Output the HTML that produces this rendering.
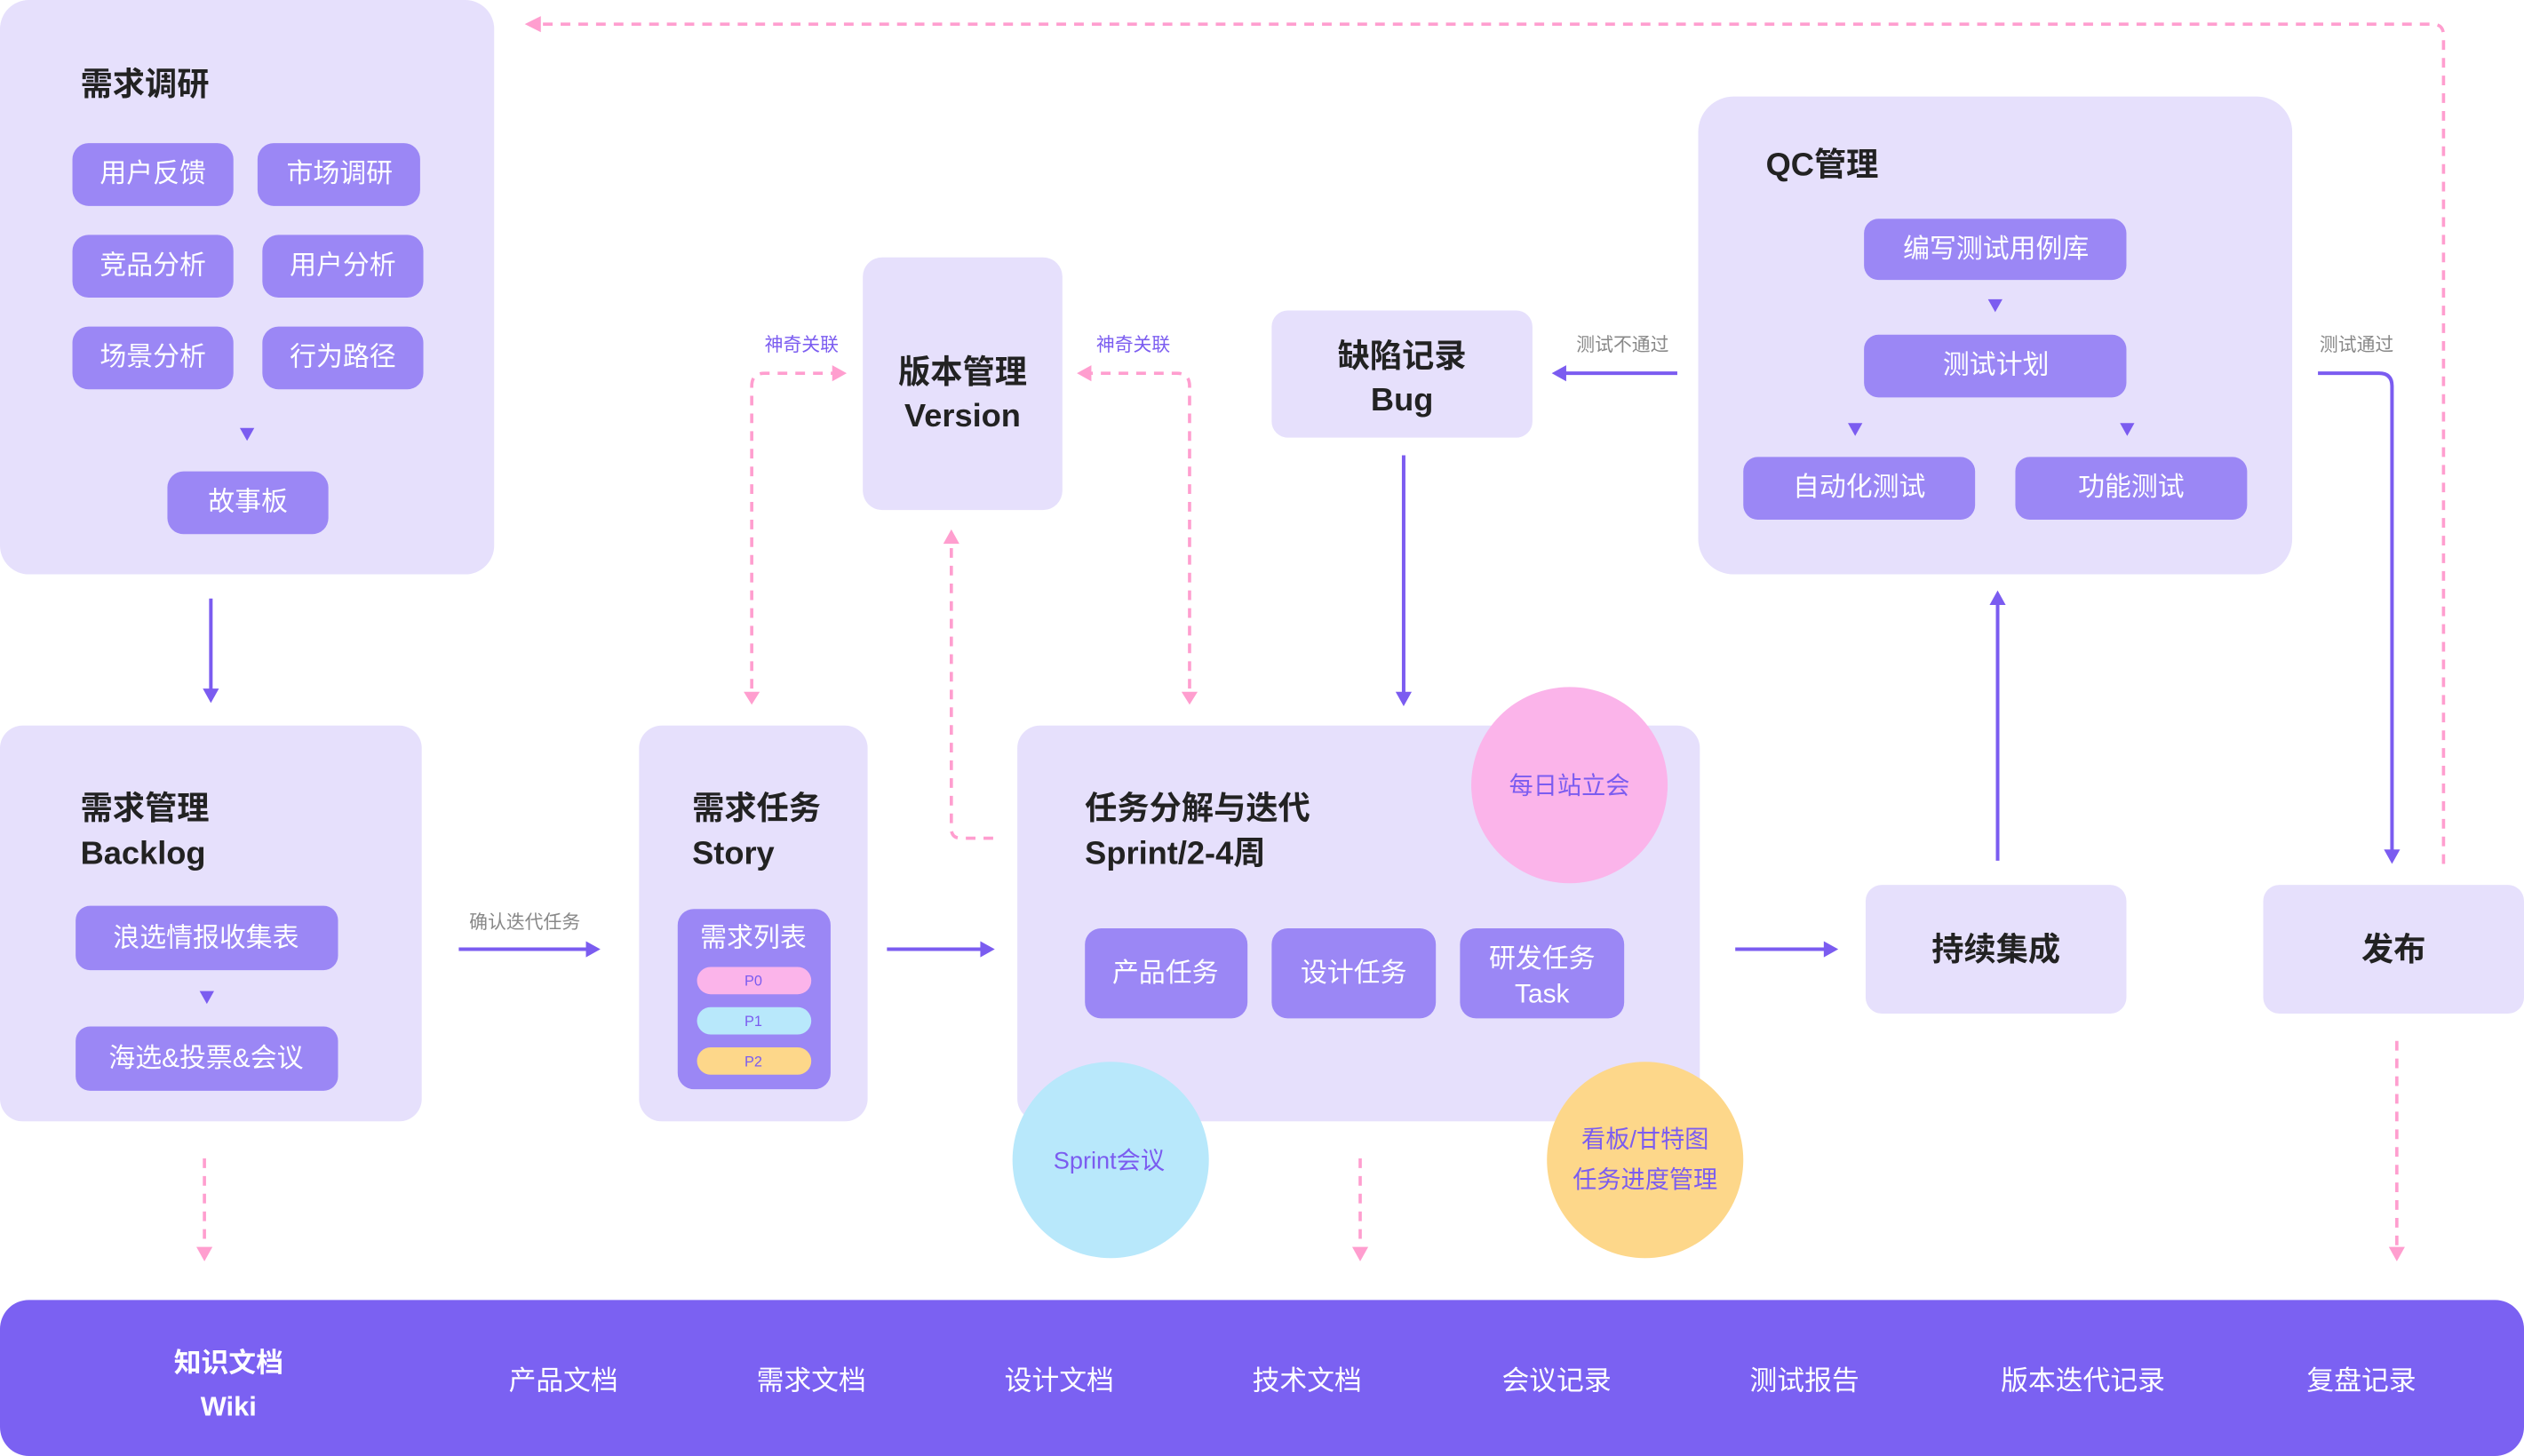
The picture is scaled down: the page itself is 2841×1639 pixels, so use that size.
<!DOCTYPE html>
<html><head><meta charset="utf-8"><style>
html,body{margin:0;padding:0;background:#fff;}
svg{display:block;}
text{font-family:"Liberation Sans","Noto Sans CJK SC",sans-serif;}
.t{font-size:20px;font-weight:bold;fill:#222;}
.p{font-size:16.5px;fill:#fff;text-anchor:middle;dominant-baseline:central;}
.box{fill:#e6e0fc;}
.pill{fill:#9b87f5;}
.lab{font-size:11.5px;fill:#888;text-anchor:middle;}
.labp{font-size:11.5px;fill:#7b5cf0;text-anchor:middle;}
.sol{stroke:#7b5cf0;stroke-width:2.2;fill:none;}
.dash{stroke:#ff9ecf;stroke-width:2;fill:none;stroke-dasharray:6 5;}
.ah{fill:#7b5cf0;}
.ap{fill:#ff9ecf;}
.w{font-size:17px;fill:#fff;text-anchor:middle;dominant-baseline:central;}
</style></head><body>
<svg width="2841" height="1639" viewBox="0 0 1568 905" preserveAspectRatio="none">
<!-- 需求调研 -->
<rect class="box" x="0" y="0" width="307" height="357" rx="18"/>
<text class="t" x="50" y="59">需求调研</text>
<rect class="pill" x="45" y="89" width="100" height="39" rx="10"/><text class="p" x="95" y="108">用户反馈</text>
<rect class="pill" x="160" y="89" width="101" height="39" rx="10"/><text class="p" x="211" y="108">市场调研</text>
<rect class="pill" x="45" y="146" width="100" height="39" rx="10"/><text class="p" x="95" y="165">竞品分析</text>
<rect class="pill" x="163" y="146" width="100" height="39" rx="10"/><text class="p" x="213" y="165">用户分析</text>
<rect class="pill" x="45" y="203" width="100" height="39" rx="10"/><text class="p" x="95" y="222">场景分析</text>
<rect class="pill" x="163" y="203" width="100" height="39" rx="10"/><text class="p" x="213" y="222">行为路径</text>
<polygon class="ah" points="149,266 158,266 153.5,274"/>
<rect class="pill" x="104" y="293" width="100" height="39" rx="10"/><text class="p" x="154" y="312">故事板</text>
<line class="sol" x1="131" y1="372" x2="131" y2="430"/><polygon class="ah" points="126,428 136,428 131,437"/>

<!-- 需求管理 -->
<rect class="box" x="0" y="451" width="262" height="246" rx="14"/>
<text class="t" x="50" y="509">需求管理</text><text class="t" x="50" y="537">Backlog</text>
<rect class="pill" x="47" y="563" width="163" height="40" rx="9"/><text class="p" x="128" y="583">浪选情报收集表</text>
<polygon class="ah" points="124,616 133,616 128.5,624"/>
<rect class="pill" x="47" y="638" width="163" height="40" rx="9"/><text class="p" x="128" y="658">海选&amp;投票&amp;会议</text>

<text class="lab" x="326" y="577">确认迭代任务</text>
<line class="sol" x1="285" y1="590" x2="366" y2="590"/><polygon class="ah" points="364,585 373,590 364,595"/>

<!-- 需求任务 -->
<rect class="box" x="397" y="451" width="142" height="246" rx="14"/>
<text class="t" x="430" y="509">需求任务</text><text class="t" x="430" y="537">Story</text>
<rect class="pill" x="421" y="565" width="95" height="112" rx="10"/>
<text class="p" x="468" y="583">需求列表</text>
<rect x="433" y="601" width="71" height="17" rx="8.5" fill="#fbb4ea"/><text x="468" y="610" font-size="9" fill="#7b5cf0" text-anchor="middle" dominant-baseline="central">P0</text>
<rect x="433" y="626" width="71" height="17" rx="8.5" fill="#b8e8fb"/><text x="468" y="635" font-size="9" fill="#7b5cf0" text-anchor="middle" dominant-baseline="central">P1</text>
<rect x="433" y="651" width="71" height="17" rx="8.5" fill="#fdd78a"/><text x="468" y="660" font-size="9" fill="#7b5cf0" text-anchor="middle" dominant-baseline="central">P2</text>

<line class="sol" x1="551" y1="590" x2="611" y2="590"/><polygon class="ah" points="609,585 618,590 609,595"/>

<!-- 任务分解 -->
<rect class="box" x="632" y="451" width="424" height="246" rx="14"/>
<text class="t" x="674" y="509">任务分解与迭代</text><text class="t" x="674" y="537">Sprint/2-4周</text>
<rect class="pill" x="674" y="577" width="101" height="56" rx="10"/><text class="p" x="724" y="605">产品任务</text>
<rect class="pill" x="790" y="577" width="102" height="56" rx="10"/><text class="p" x="841" y="605">设计任务</text>
<rect class="pill" x="907" y="577" width="102" height="56" rx="10"/><text class="p" x="958" y="596">研发任务</text><text class="p" x="958" y="618">Task</text>
<circle cx="975" cy="488" r="61" fill="#fbb4ea"/><text x="975" y="488" font-size="15" fill="#7b5cf0" text-anchor="middle" dominant-baseline="central">每日站立会</text>
<circle cx="690" cy="721" r="61" fill="#b8e8fb"/><text x="689" y="721" font-size="15" fill="#7b5cf0" text-anchor="middle" dominant-baseline="central">Sprint会议</text>
<circle cx="1022" cy="721" r="61" fill="#fdd78a"/><text x="1022" y="708" font-size="15" fill="#7b5cf0" text-anchor="middle" dominant-baseline="central">看板/甘特图</text><text x="1022" y="733" font-size="15" fill="#7b5cf0" text-anchor="middle" dominant-baseline="central">任务进度管理</text>

<!-- 版本管理 -->
<rect class="box" x="536" y="160" width="124" height="157" rx="12"/>
<text class="t" x="598" y="238" text-anchor="middle">版本管理</text><text class="t" x="598" y="265" text-anchor="middle">Version</text>
<text class="labp" x="498" y="218">神奇关联</text>
<path class="dash" d="M467,428 V240 Q467,232 475,232 H518"/><polygon class="ap" points="517,227 526,232 517,237"/><polygon class="ap" points="462,430 472,430 467,438"/>
<text class="labp" x="704" y="218">神奇关联</text>
<path class="dash" d="M739,428 V240 Q739,232 731,232 H678"/><polygon class="ap" points="678,227 669,232 678,237"/><polygon class="ap" points="734,430 744,430 739,438"/>
<path class="dash" d="M617,521 H597 Q591,521 591,515 V338"/><polygon class="ap" points="586,338 596,338 591,329"/>

<!-- 缺陷记录 -->
<rect class="box" x="790" y="193" width="162" height="79" rx="10"/>
<text class="t" x="871" y="228" text-anchor="middle">缺陷记录</text><text class="t" x="871" y="255" text-anchor="middle">Bug</text>
<text class="lab" x="1008" y="218">测试不通过</text>
<line class="sol" x1="1042" y1="232" x2="972" y2="232"/><polygon class="ah" points="973,227 964,232 973,237"/>
<line class="sol" x1="872" y1="283" x2="872" y2="432"/><polygon class="ah" points="867,430 877,430 872,439"/>

<!-- QC -->
<rect class="box" x="1055" y="60" width="369" height="297" rx="22"/>
<text class="t" x="1097" y="109">QC管理</text>
<rect class="pill" x="1158" y="136" width="163" height="38" rx="9"/><text class="p" x="1240" y="155">编写测试用例库</text>
<polygon class="ah" points="1235,186 1244,186 1239.5,194"/>
<rect class="pill" x="1158" y="208" width="163" height="39" rx="9"/><text class="p" x="1240" y="227">测试计划</text>
<polygon class="ah" points="1148,263 1157,263 1152.5,271"/><polygon class="ah" points="1317,263 1326,263 1321.5,271"/>
<rect class="pill" x="1083" y="284" width="144" height="39" rx="9"/><text class="p" x="1155" y="303">自动化测试</text>
<rect class="pill" x="1252" y="284" width="144" height="39" rx="9"/><text class="p" x="1324" y="303">功能测试</text>

<line class="sol" x1="1078" y1="590" x2="1135" y2="590"/><polygon class="ah" points="1133,585 1142,590 1133,595"/>
<rect class="box" x="1159" y="550" width="162" height="80" rx="10"/>
<text class="t" x="1240" y="597" text-anchor="middle">持续集成</text>
<line class="sol" x1="1241" y1="535" x2="1241" y2="374"/><polygon class="ah" points="1236,376 1246,376 1241,367"/>

<rect class="box" x="1406" y="550" width="162" height="80" rx="10"/>
<text class="t" x="1487" y="597" text-anchor="middle">发布</text>
<text class="lab" x="1464" y="218">测试通过</text>
<path class="sol" d="M1440,232 H1478 Q1486,232 1486,240 V530"/><polygon class="ah" points="1481,528 1491,528 1486,537"/>
<path class="dash" d="M1518,537 V22 Q1518,15 1511,15 H335"/><polygon class="ap" points="336,10 326,15 336,20"/>

<path class="dash" d="M127,720 V775"/><polygon class="ap" points="122,775 132,775 127,784"/>
<path class="dash" d="M845,720 V775"/><polygon class="ap" points="840,775 850,775 845,784"/>
<path class="dash" d="M1489,647 V775"/><polygon class="ap" points="1484,775 1494,775 1489,784"/>

<!-- bottom bar -->
<rect x="0" y="808" width="1568" height="97" rx="18" fill="#7b61f2"/>
<text class="w" x="142" y="847" font-weight="bold" font-size="19">知识文档</text>
<text class="w" x="142" y="874" font-weight="bold" font-size="19">Wiki</text>
<text class="w" x="350" y="858">产品文档</text>
<text class="w" x="504" y="858">需求文档</text>
<text class="w" x="658" y="858">设计文档</text>
<text class="w" x="812" y="858">技术文档</text>
<text class="w" x="967" y="858">会议记录</text>
<text class="w" x="1121" y="858">测试报告</text>
<text class="w" x="1294" y="858">版本迭代记录</text>
<text class="w" x="1467" y="858">复盘记录</text>
</svg>
</body></html>
